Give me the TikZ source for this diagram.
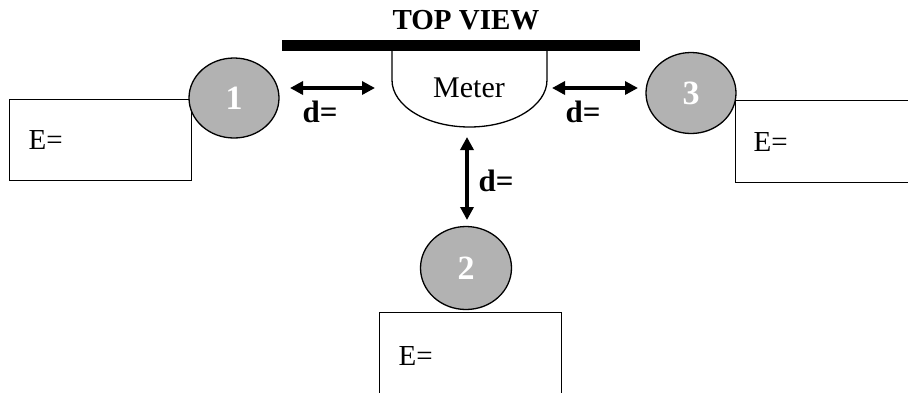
\documentclass[tikz,border=0pt]{standalone}
\usepackage{fontspec}
\setmainfont{Liberation Serif}
\usetikzlibrary{arrows.meta, shapes.geometric}

\definecolor{ballgray}{RGB}{178,178,178}

\tikzset{
  ball/.style={ellipse, draw, line width=1.3pt, fill=ballgray, inner sep=0pt,
    text=white, font=\fontsize{34}{34}\selectfont\bfseries},
  ebox/.style={draw, line width=1.3pt, anchor=north west, align=left,
    inner ysep=0pt, font=\fontsize{29}{29}\selectfont},
  darr/.style={{Triangle[length=13pt,width=13pt]}-{Triangle[length=13pt,width=13pt]}, line width=3.5pt},
  dlabel/.style={font=\fontsize{31}{31}\selectfont\bfseries}
}

\begin{document}
\begin{tikzpicture}[x=1pt, y=-1pt]
\useasboundingbox (0,0) rectangle (908,392);
\clip (0,0) rectangle (908,392);

% title and wall
\node[font=\fontsize{29}{29}\selectfont\bfseries] (title) at (466,20) {TOP VIEW};
\fill (282,40) rectangle (640,51);

% meter
\draw[line width=1.3pt] (392,51) -- (392,80) arc[start angle=180, end angle=0, x radius=77.5, y radius=47] -- (547,51);
\node[font=\fontsize{30}{30}\selectfont] (meter) at (469,88) {Meter};

% boxes
\node[ebox, minimum width=182pt, minimum height=81pt, text width=144pt, inner xsep=19pt] (box1) at (9,99) {E=};
\node[ebox, minimum width=200pt, minimum height=82pt, text width=164pt, inner xsep=18pt] (box3) at (735,100) {E=};
\node[ebox, minimum width=182pt, minimum height=86pt, text width=144pt, inner xsep=19pt] (box2) at (379,312) {E=};

% balls
\node[ball, minimum width=90pt, minimum height=80pt] (c1) at (234,98) {1};
\node[ball, minimum width=90pt, minimum height=81pt] (c3) at (691,93) {3};
\node[ball, minimum width=91pt, minimum height=83pt] (c2) at (466,268) {2};

% distances
\coordinate (l1) at (290,88);
\coordinate (l2) at (375,88);
\coordinate (r1) at (552,88);
\coordinate (r2) at (638,88);
\coordinate (v1) at (467,137);
\coordinate (v2) at (467,220);
\draw[darr] (l1) -- (l2);
\draw[darr] (r1) -- (r2);
\draw[darr] (v1) -- (v2);
\node[dlabel] (d1) at (320,112) {d=};
\node[dlabel] (d3) at (583,112) {d=};
\node[dlabel] (d2) at (496,181) {d=};
\end{tikzpicture}
\end{document}
